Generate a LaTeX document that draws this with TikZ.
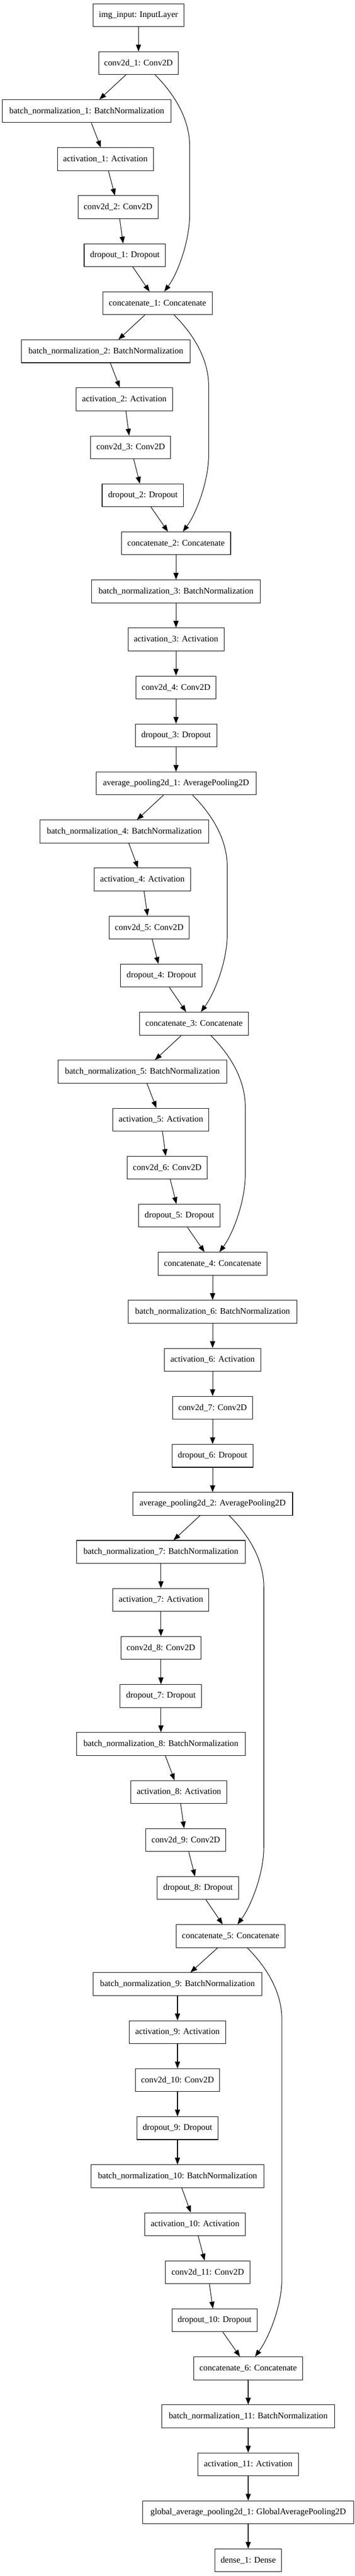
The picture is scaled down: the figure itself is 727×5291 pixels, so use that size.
\documentclass[tikz,border=0pt]{standalone}
\usepackage{fontspec}
\setmainfont{Liberation Serif}
\usetikzlibrary{arrows.meta,calc}
\tikzset{
  box/.style={draw=black, line width=1.1pt, minimum height=47pt, inner sep=0pt, font=\fontsize{17.7}{20}\selectfont},
  edge/.style={draw=black, line width=1.1pt, -{Triangle[length=14pt,width=10.5pt]}},
}
\newcommand\lay[5]{\node[box, minimum width=#4pt] (#1) at (#3,{31+98.64*#2}) {#5};}
\newcommand\skipconn[2]{%
  \coordinate (sA) at ($(#1.south)+(34,0)$);
  \coordinate (sB) at ($(#2.north)+(14,0)$);
  \coordinate (sX) at ($(sA)+(71,0)$);
  \coordinate (sY) at ($(sB)+(0,-159)$);
  \coordinate (sC) at (sX |- sY);
  \draw[edge] (sA) .. controls ($(sA)+(36,36)$) and ($(sA)+(71,87)$) .. ($(sA)+(71,147)$) -- (sC) .. controls ($(sC)+(0,55)$) and ($(sB)+(28,-38)$) .. (sB);
}
\begin{document}
\begin{tikzpicture}[x=1pt,y=-1pt]
\useasboundingbox (0,0) rectangle (727,5291);
\lay{img}{0}{284}{186}{img\_input: InputLayer}
\lay{c1}{1}{284}{163}{conv2d\_1: Conv2D}
\lay{bn1}{2}{178}{346}{batch\_normalization\_1: BatchNormalization}
\lay{a1}{3}{216}{197}{activation\_1: Activation}
\lay{c2}{4}{242}{164}{conv2d\_2: Conv2D}
\lay{d1}{5}{256}{167}{dropout\_1: Dropout}
\lay{cat1}{6}{323}{224}{concatenate\_1: Concatenate}
\lay{bn2}{7}{217}{346}{batch\_normalization\_2: BatchNormalization}
\lay{a2}{8}{255}{197}{activation\_2: Activation}
\lay{c3}{9}{268}{164}{conv2d\_3: Conv2D}
\lay{d2}{10}{293}{167}{dropout\_2: Dropout}
\lay{cat2}{11}{361}{224}{concatenate\_2: Concatenate}
\lay{bn3}{12}{361}{346}{batch\_normalization\_3: BatchNormalization}
\lay{a3}{13}{361}{197}{activation\_3: Activation}
\lay{c4}{14}{361}{164}{conv2d\_4: Conv2D}
\lay{d3}{15}{361}{167}{dropout\_3: Dropout}
\lay{ap1}{16}{361}{328}{average\_pooling2d\_1: AveragePooling2D}
\lay{bn4}{17}{255}{346}{batch\_normalization\_4: BatchNormalization}
\lay{a4}{18}{292}{197}{activation\_4: Activation}
\lay{c5}{19}{306}{164}{conv2d\_5: Conv2D}
\lay{d4}{20}{331}{167}{dropout\_4: Dropout}
\lay{cat3}{21}{398}{224}{concatenate\_3: Concatenate}
\lay{bn5}{22}{292}{346}{batch\_normalization\_5: BatchNormalization}
\lay{a5}{23}{330}{197}{activation\_5: Activation}
\lay{c6}{24}{343}{164}{conv2d\_6: Conv2D}
\lay{d5}{25}{368}{167}{dropout\_5: Dropout}
\lay{cat4}{26}{436}{224}{concatenate\_4: Concatenate}
\lay{bn6}{27}{436}{346}{batch\_normalization\_6: BatchNormalization}
\lay{a6}{28}{436}{197}{activation\_6: Activation}
\lay{c7}{29}{436}{164}{conv2d\_7: Conv2D}
\lay{d6}{30}{436}{167}{dropout\_6: Dropout}
\lay{ap2}{31}{436}{328}{average\_pooling2d\_2: AveragePooling2D}
\lay{bn7}{32}{330}{346}{batch\_normalization\_7: BatchNormalization}
\lay{a7}{33}{330}{197}{activation\_7: Activation}
\lay{c8}{34}{330}{164}{conv2d\_8: Conv2D}
\lay{d7}{35}{330}{167}{dropout\_7: Dropout}
\lay{bn8}{36}{330}{346}{batch\_normalization\_8: BatchNormalization}
\lay{a8}{37}{367}{197}{activation\_8: Activation}
\lay{c9}{38}{381}{164}{conv2d\_9: Conv2D}
\lay{d8}{39}{406}{167}{dropout\_8: Dropout}
\lay{cat5}{40}{473}{224}{concatenate\_5: Concatenate}
\lay{bn9}{41}{364}{346}{batch\_normalization\_9: BatchNormalization}
\lay{a9}{42}{364}{197}{activation\_9: Activation}
\lay{c10}{43}{364}{173}{conv2d\_10: Conv2D}
\lay{d9}{44}{364}{167}{dropout\_9: Dropout}
\lay{bn10}{45}{364}{355}{batch\_normalization\_10: BatchNormalization}
\lay{a10}{46}{400}{206}{activation\_10: Activation}
\lay{c11}{47}{426}{173}{conv2d\_11: Conv2D}
\lay{d10}{48}{440}{174}{dropout\_10: Dropout}
\lay{cat6}{49}{509}{224}{concatenate\_6: Concatenate}
\lay{bn11}{50}{509}{355}{batch\_normalization\_11: BatchNormalization}
\lay{a11}{51}{509}{206}{activation\_11: Activation}
\lay{gap}{52}{509}{432}{global\_average\_pooling2d\_1: GlobalAveragePooling2D}
\lay{dense}{53}{509}{136}{dense\_1: Dense}
\foreach \s/\t in {img/c1, c1/bn1, bn1/a1, a1/c2, c2/d1, d1/cat1, cat1/bn2, bn2/a2, a2/c3, c3/d2, d2/cat2,
  cat2/bn3, bn3/a3, a3/c4, c4/d3, d3/ap1, ap1/bn4, bn4/a4, a4/c5, c5/d4, d4/cat3, cat3/bn5, bn5/a5, a5/c6, c6/d5, d5/cat4,
  cat4/bn6, bn6/a6, a6/c7, c7/d6, d6/ap2, ap2/bn7, bn7/a7, a7/c8, c8/d7, d7/bn8, bn8/a8, a8/c9, c9/d8, d8/cat5,
  cat5/bn9, bn9/a9, a9/c10, c10/d9, d9/bn10, bn10/a10, a10/c11, c11/d10, d10/cat6, cat6/bn11, bn11/a11, a11/gap, gap/dense}
  {\draw[edge] (\s) -- (\t);}
\skipconn{c1}{cat1}
\skipconn{cat1}{cat2}
\skipconn{ap1}{cat3}
\skipconn{cat3}{cat4}
\skipconn{ap2}{cat5}
\skipconn{cat5}{cat6}
\end{tikzpicture}
\end{document}
